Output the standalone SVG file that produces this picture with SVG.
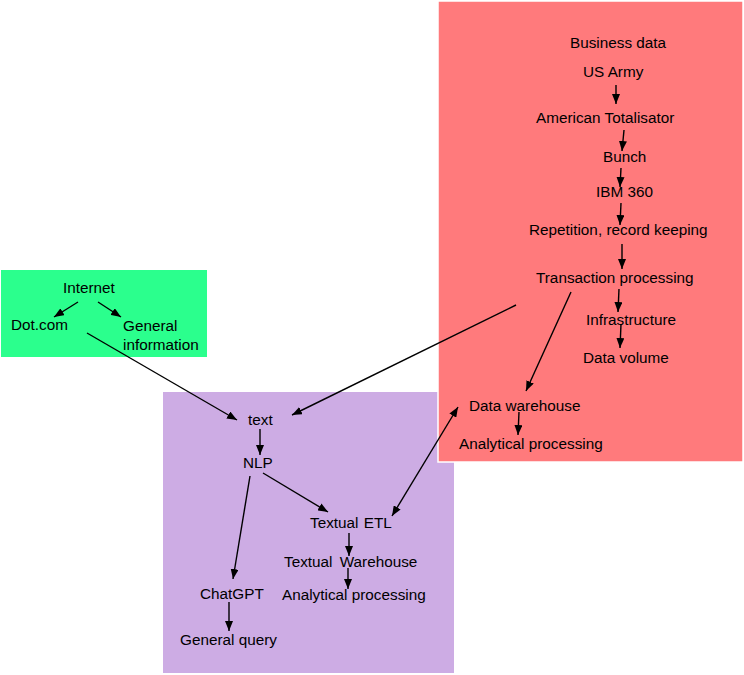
<svg xmlns="http://www.w3.org/2000/svg" width="744" height="675" viewBox="0 0 744 675">
<defs>
<style>
text{font-family:"Liberation Sans",Arial,sans-serif;font-size:15.3px;fill:#000}
.c{stroke:#000;stroke-width:1.4;fill:none;marker-end:url(#ah)}
.d{stroke:#000;stroke-width:1.4;fill:none;marker-end:url(#ah);marker-start:url(#as)}
</style>
<marker id="ah" viewBox="0 0 10 8" refX="10" refY="4" markerWidth="10" markerHeight="8" markerUnits="userSpaceOnUse" orient="auto"><path d="M0,0L10,4L0,8z" fill="#000"/></marker>
<marker id="as" viewBox="0 0 10 8" refX="0" refY="4" markerWidth="10" markerHeight="8" markerUnits="userSpaceOnUse" orient="auto"><path d="M10,0L0,4L10,8z" fill="#000"/></marker>
</defs>
<rect width="744" height="675" fill="#fff"/>
<g id="internet-box">
<rect x="1" y="270" width="206" height="87" fill="#2BFF8D"/>
<text x="63" y="293">Internet</text>
<text x="11" y="330">Dot.com</text>
<text x="123" y="331">General</text>
<text x="123" y="350">information</text>
</g>
<g id="text-box">
<rect x="163" y="392" width="291" height="281" fill="#CDACE4"/>
<text x="248" y="425">text</text>
<text x="243" y="468">NLP</text>
<text x="310" y="528" word-spacing="1">Textual ETL</text>
<text x="284" y="567" word-spacing="3">Textual Warehouse</text>
<text x="282" y="600">Analytical processing</text>
<text x="200" y="599">ChatGPT</text>
<text x="180" y="645">General query</text>
</g>
<g id="business-box">
<rect x="438" y="1" width="305" height="461" fill="#FF7A7C" stroke="#fff" stroke-width="1.5"/>
<text x="570" y="48">Business data</text>
<text x="583" y="77">US Army</text>
<text x="536" y="123">American Totalisator</text>
<text x="603" y="162">Bunch</text>
<text x="596" y="197">IBM 360</text>
<text x="529" y="235">Repetition, record keeping</text>
<text x="536" y="283">Transaction processing</text>
<text x="586" y="325">Infrastructure</text>
<text x="583" y="363">Data volume</text>
<text x="469" y="411">Data warehouse</text>
<text x="459" y="449">Analytical processing</text>
</g>
<g id="connectors">
<line class="c" x1="78" y1="302" x2="54" y2="317"/>
<line class="c" x1="98" y1="302" x2="121" y2="317"/>
<line class="c" x1="87" y1="333" x2="237" y2="420"/>
<line class="c" x1="516" y1="305" x2="292" y2="415"/>
<line class="c" x1="616" y1="85" x2="616" y2="104"/>
<line class="c" x1="624" y1="130" x2="622" y2="151"/>
<line class="c" x1="621" y1="168" x2="620" y2="187"/>
<line class="c" x1="621" y1="203" x2="620" y2="225"/>
<line class="c" x1="622" y1="244" x2="622" y2="269"/>
<line class="c" x1="619" y1="289" x2="618" y2="312"/>
<line class="c" x1="621" y1="324" x2="620" y2="348"/>
<line class="c" x1="571" y1="292" x2="526" y2="391"/>
<line class="c" x1="519" y1="412" x2="518" y2="435"/>
<line class="d" x1="392" y1="516" x2="458" y2="407"/>
<line class="c" x1="260" y1="429" x2="260" y2="455"/>
<line class="c" x1="250" y1="476" x2="233" y2="579"/>
<line class="c" x1="263" y1="473" x2="328" y2="512"/>
<line class="c" x1="349" y1="533" x2="349" y2="556"/>
<line class="c" x1="348" y1="568" x2="348" y2="589"/>
<line class="c" x1="229" y1="602" x2="229" y2="631"/>
</g>
</svg>
